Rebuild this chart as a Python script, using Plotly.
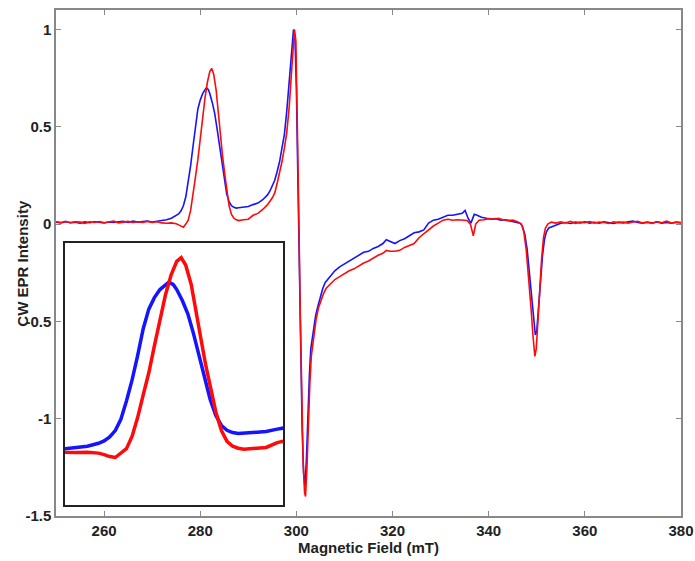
import plotly.graph_objects as go

# CW EPR spectra, field in mT, intensity normalised
blue_trace = [
    (250, 0.010), (251, 0.006), (252, 0.012), (253, 0.008), (254, 0.010), (255, 0.005),
    (256, 0.011), (257, 0.007), (258, 0.012), (259, 0.009), (260, 0.006), (261, 0.011),
    (262, 0.008), (263, 0.012), (264, 0.014), (265, 0.008), (266, 0.015), (267, 0.010),
    (268, 0.012), (269, 0.016), (270, 0.011), (271, 0.015), (272, 0.020), (273, 0.022),
    (274, 0.030), (274.5, 0.036), (275, 0.042), (275.5, 0.052), (276, 0.068), (276.5, 0.094),
    (277, 0.140), (277.5, 0.215), (278, 0.300), (278.5, 0.400), (279, 0.510), (279.5, 0.590),
    (280, 0.637), (280.5, 0.670), (281, 0.690), (281.3, 0.700), (281.7, 0.690), (282, 0.670),
    (282.5, 0.625), (283, 0.570), (283.5, 0.490), (284, 0.400), (284.5, 0.310), (285, 0.220),
    (285.5, 0.155), (286, 0.115), (286.5, 0.095), (287, 0.086), (287.5, 0.082), (288, 0.084),
    (289, 0.088), (290, 0.090), (291, 0.100), (292, 0.108), (293, 0.125), (294, 0.150),
    (294.5, 0.170), (295, 0.195), (295.5, 0.225), (296, 0.270), (296.5, 0.320), (297, 0.390),
    (297.5, 0.460), (298, 0.580), (298.5, 0.720), (299, 0.880), (299.4, 1.000), (299.7, 0.960),
    (300, 0.700), (300.3, 0.250), (300.6, -0.250), (300.9, -0.700), (301.2, -1.050), (301.5, -1.280),
    (301.8, -1.350), (302.1, -1.200), (302.4, -0.950), (302.7, -0.780), (303, -0.640), (303.5, -0.540),
    (304, -0.470), (304.5, -0.420), (305, -0.370), (305.5, -0.330), (306, -0.300), (307, -0.270),
    (308, -0.240), (309, -0.220), (310, -0.205), (311, -0.190), (312, -0.175), (313, -0.160),
    (314, -0.145), (315, -0.140), (316, -0.125), (317, -0.115), (318, -0.100), (318.7, -0.080),
    (319.5, -0.090), (320.5, -0.100), (321.5, -0.085), (322.5, -0.075), (323.5, -0.060), (324.5, -0.045),
    (325.5, -0.040), (326.5, -0.030), (327.5, 0.005), (328.5, 0.020), (329.5, 0.025), (330.5, 0.035),
    (331.5, 0.045), (332.5, 0.045), (333.5, 0.050), (334.5, 0.055), (335.1, 0.070), (335.7, 0.030),
    (336.3, 0.005), (337, 0.050), (337.6, 0.045), (338.5, 0.035), (339.5, 0.030), (340.5, 0.025),
    (341.5, 0.028), (342.5, 0.020), (343.5, 0.022), (344.5, 0.015), (345.5, 0.012), (346.5, 0.005),
    (347, -0.010), (347.5, -0.050), (348, -0.130), (348.5, -0.260), (349, -0.400), (349.4, -0.520),
    (349.7, -0.570), (350, -0.550), (350.4, -0.420), (350.8, -0.280), (351.2, -0.160), (351.6, -0.080),
    (352, -0.040), (352.5, -0.020), (353.5, -0.010), (354.5, 0.000), (355, 0.004), (356, 0.008),
    (357, 0.003), (358, 0.010), (359, 0.006), (360, 0.012), (361, 0.005), (362, 0.009),
    (363, 0.004), (364, 0.011), (365, 0.007), (366, 0.003), (367, 0.010), (368, 0.006),
    (369, 0.012), (370, 0.015), (371, 0.008), (372, 0.004), (373, 0.009), (374, 0.006),
    (375, 0.011), (376, 0.005), (377, 0.008), (378, 0.004), (379, 0.009), (380, 0.006),
]

red_trace = [
    (250, 0.012), (251, 0.008), (252, 0.014), (253, 0.006), (254, 0.012), (255, 0.010),
    (256, 0.004), (257, 0.012), (258, 0.008), (259, 0.013), (260, 0.007), (261, 0.010),
    (262, 0.015), (263, 0.006), (264, 0.011), (265, 0.014), (266, 0.008), (267, 0.012),
    (268, 0.009), (269, 0.014), (270, 0.008), (271, 0.012), (272, 0.006), (273, 0.004),
    (274, 0.006), (275, 0.002), (275.5, -0.004), (276, -0.012), (276.5, -0.016), (277, 0.000),
    (277.5, 0.020), (278, 0.070), (278.5, 0.147), (279, 0.240), (279.5, 0.330), (280, 0.440),
    (280.5, 0.550), (281, 0.650), (281.5, 0.730), (282, 0.785), (282.4, 0.800), (282.8, 0.770),
    (283.3, 0.690), (283.7, 0.580), (284.2, 0.460), (284.6, 0.360), (285.1, 0.257), (285.5, 0.170),
    (286, 0.094), (286.5, 0.050), (287, 0.030), (287.5, 0.022), (288, 0.018), (289, 0.022),
    (290, 0.025), (291, 0.045), (292, 0.055), (293, 0.075), (294, 0.100), (295, 0.135),
    (295.5, 0.160), (296, 0.210), (296.5, 0.260), (297, 0.320), (297.5, 0.390), (298, 0.470),
    (298.5, 0.600), (299, 0.780), (299.3, 0.920), (299.6, 1.000), (299.9, 0.940), (300.2, 0.550),
    (300.5, 0.050), (300.8, -0.450), (301.1, -0.900), (301.4, -1.220), (301.7, -1.380), (301.9, -1.400),
    (302.2, -1.250), (302.5, -1.000), (302.8, -0.820), (303.1, -0.680), (303.6, -0.570), (304.1, -0.490),
    (304.6, -0.430), (305.1, -0.390), (305.6, -0.360), (306.2, -0.330), (307, -0.310), (308, -0.285),
    (309, -0.270), (310, -0.255), (311, -0.240), (312, -0.230), (313, -0.215), (314, -0.200),
    (315, -0.190), (316, -0.175), (317, -0.160), (318, -0.150), (318.7, -0.135), (319.5, -0.140),
    (320.5, -0.140), (321.5, -0.135), (322.5, -0.120), (323.5, -0.110), (324.5, -0.100), (325.5, -0.070),
    (326.5, -0.050), (327.5, -0.030), (328.5, -0.010), (329.5, 0.005), (330.5, 0.020), (331.5, 0.025),
    (332.5, 0.020), (333.5, 0.022), (334.5, 0.020), (335.5, 0.018), (336.2, 0.000), (336.8, -0.060),
    (337.3, 0.000), (338, 0.020), (339, 0.022), (340, 0.028), (341, 0.025), (342, 0.030),
    (343, 0.022), (344, 0.018), (345, 0.020), (346, 0.012), (346.8, 0.000), (347.3, -0.040),
    (347.8, -0.130), (348.3, -0.270), (348.8, -0.430), (349.2, -0.570), (349.6, -0.680), (349.9, -0.640),
    (350.2, -0.500), (350.6, -0.330), (351, -0.180), (351.4, -0.070), (351.8, -0.020), (352.3, 0.000),
    (353, 0.010), (354, 0.005), (355, 0.012), (356, 0.006), (357, 0.014), (358, 0.004),
    (359, 0.010), (360, 0.007), (361, 0.013), (362, 0.005), (363, 0.011), (364, 0.008),
    (365, 0.003), (366, 0.012), (367, 0.007), (368, 0.010), (369, 0.005), (370, 0.011),
    (371, 0.014), (372, 0.006), (373, 0.010), (374, 0.004), (375, 0.012), (376, 0.007),
    (377, 0.015), (378, 0.005), (379, 0.010), (380, 0.008),
]

x_ticks = [260, 280, 300, 320, 340, 360, 380]
y_ticks = [-1.5, -1, -0.5, 0, 0.5, 1]
y_labels = ["-1.5", "-1", "-0.5", "0", "0.5", "1"]

bx, by = zip(*blue_trace)
rx, ry = zip(*red_trace)

BLUE = "rgb(20,20,255)"
RED = "rgb(255,10,10)"

fig = go.Figure()
# main spectrum
fig.add_trace(go.Scatter(x=bx, y=by, mode="lines", line=dict(color=BLUE, width=1.6)))
fig.add_trace(go.Scatter(x=rx, y=ry, mode="lines", line=dict(color=RED, width=1.6)))
# inset: zoom on the 280 mT peak
fig.add_trace(go.Scatter(x=bx, y=by, mode="lines", line=dict(color=BLUE, width=3.5),
                         xaxis="x2", yaxis="y2"))
fig.add_trace(go.Scatter(x=rx, y=ry, mode="lines", line=dict(color=RED, width=3.5),
                         xaxis="x2", yaxis="y2"))

axis_font = dict(family="Liberation Sans, Arial", size=15, color="#222", weight="bold")

fig.update_layout(
    width=695, height=561,
    margin=dict(l=56, r=14, t=10, b=45),
    paper_bgcolor="white", plot_bgcolor="white",
    showlegend=False,
    xaxis=dict(
        range=[250, 380], tickvals=x_ticks, ticks="inside", ticklen=5, tickcolor="#888",
        showline=True, linecolor="#888", linewidth=1.5, mirror="ticks",
        showgrid=False, zeroline=False, tickfont=axis_font, automargin=False,
        title=dict(text="Magnetic Field (mT)", font=axis_font, standoff=0),
    ),
    yaxis=dict(
        range=[-1.5, 1.1], tickvals=y_ticks, ticktext=y_labels, ticks="inside", ticklen=5,
        tickcolor="#888", showline=True, linecolor="#888", linewidth=1.5, mirror="ticks",
        showgrid=False, zeroline=False, tickfont=axis_font, automargin=False,
    ),
    xaxis2=dict(
        domain=[0.0144, 0.363], anchor="y2", range=[272, 291.5],
        showticklabels=False, ticks="", showgrid=False, zeroline=False,
        showline=True, linecolor="#222", linewidth=1.5, mirror=True,
    ),
    yaxis2=dict(
        domain=[0.0217, 0.5395], anchor="x2", range=[-0.21, 0.86],
        showticklabels=False, ticks="", showgrid=False, zeroline=False,
        showline=True, linecolor="#222", linewidth=1.5, mirror=True,
    ),
    annotations=[dict(
        text="CW EPR Intensity", font=axis_font, textangle=-90,
        xref="paper", yref="paper", x=-0.055, y=0.5,
        xanchor="center", yanchor="middle", showarrow=False,
    )],
)

# drop the default page margin so the figure sits at the window's corner
fig.write_html("out.html", config={"displayModeBar": False},
               post_script="document.body.style.margin='0';document.body.style.overflow='hidden';")
